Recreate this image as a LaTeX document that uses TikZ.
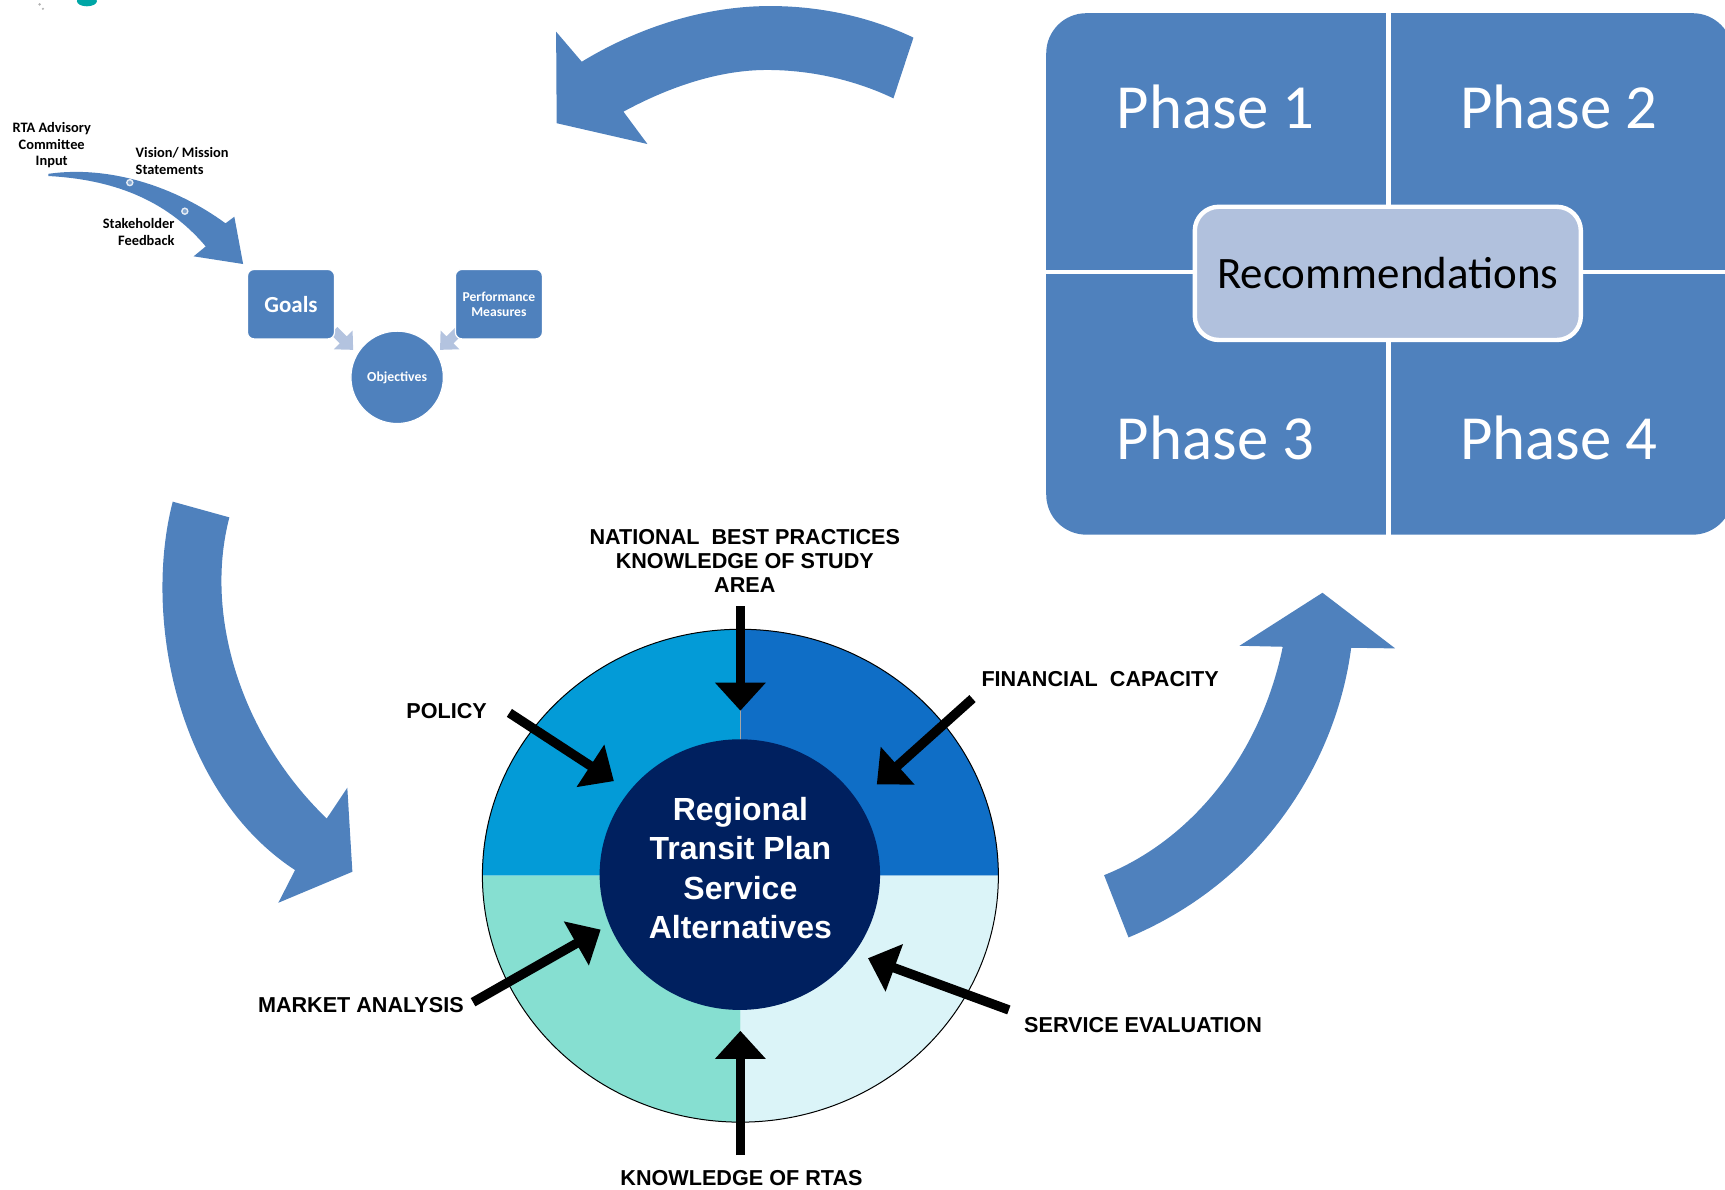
\documentclass[tikz,border=0pt]{standalone}
\usepackage{fontspec}
\newfontfamily\calfont{Carlito}
\newfontfamily\arialfont{Liberation Sans}
\usetikzlibrary{arrows.meta,shapes.geometric}
\definecolor{officeblue}{HTML}{4F81BD}
\definecolor{paleblue}{HTML}{B1C1DD}
\definecolor{chevron}{HTML}{B3C3DF}
\definecolor{qtl}{HTML}{039BD7}
\definecolor{qtr}{HTML}{0F6EC6}
\definecolor{qbl}{HTML}{86DFD1}
\definecolor{qbr}{HTML}{DBF4F8}
\definecolor{navy}{HTML}{00205F}
\newcommand\setfs[2]{\fontsize{#1}{#2}\selectfont}
\tikzset{
  bigarrow/.style={fill=officeblue},
  phasetext/.style={text=white,font=\calfont\setfs{31.4pt}{36pt}},
  smallbox/.style={fill=officeblue,draw=white,line width=0.6pt,rounded corners=3.3pt,
    minimum width=43.5pt,minimum height=34.7pt,text=white,align=center},
  smalllabel/.style={font=\calfont\bfseries\setfs{7.2pt}{8.2pt},inner sep=0pt},
  wheellabel/.style={font=\arialfont\bfseries\setfs{10.8pt}{12.1pt},align=center},
  pointer/.style={line width=4.7pt,-{Triangle[length=14pt,width=24.5pt]}},
}
\begin{document}
\begin{tikzpicture}[x=0.55pt,y=-0.55pt]
\useasboundingbox (0,0) rectangle (1568,1081);

% small remnant of a picture at the top edge
\fill[color=teal!70!cyan] (79,1) ellipse [x radius=5pt, y radius=2.6pt];
\fill[gray!60] (36,4) circle [radius=0.7pt] (39,8) circle [radius=0.6pt];

% ---------- phase panel ----------
\fill[officeblue,rounded corners=20pt] (951,12) rectangle (1575,486);
\draw[white,line width=2.8pt] (1262,12) -- (1262,486);
\draw[white,line width=2.2pt] (951,247) -- (1575,247);
\node[phasetext] (p1) at (1105,97) {Phase 1};
\node[phasetext] (p2) at (1417,97) {Phase 2};
\node[phasetext] (p3) at (1105,398) {Phase 3};
\node[phasetext] (p4) at (1417,398) {Phase 4};
\node[fill=paleblue,draw=white,line width=2.2pt,rounded corners=12pt,
      minimum width=193pt,minimum height=66.6pt,
      font=\calfont\setfs{22.5pt}{26pt}] (rec) at (1261.5,248.5) {Recommendations};

% ---------- big curved arrows ----------
\fill[bigarrow] (830.3,34.2) .. controls (790,15) and (745,5.5) .. (700,5.5)
  .. controls (640,5.5) and (580,25) .. (528.8,56.1)
  -- (505.5,28.8) -- (506,112) -- (588.5,130.9) -- (566.7,101.5)
  .. controls (610,78) and (655,63.6) .. (697,63.6)
  .. controls (740,63.6) and (780,74) .. (812.1,89.4) -- cycle;
\fill[bigarrow] (157,456) .. controls (130,560) and (160,720) .. (268.2,790.9)
  -- (253,820.6) -- (320.3,792.4) -- (315.7,716) -- (297,744)
  .. controls (220,670) and (185,560) .. (208.5,470.3) -- cycle;
\fill[bigarrow] (1003.6,795.5) .. controls (1080,765) and (1145,690) .. (1166,587.9)
  -- (1126.7,587) -- (1202.1,538.8) -- (1268.2,589.4) -- (1228.2,588.8)
  .. controls (1215,690) and (1150,800) .. (1025.8,852.1) -- cycle;

% ---------- goals / objectives sketch ----------
\fill[bigarrow] (44,158) .. controls (100,150) and (160,170) .. (205,203)
  -- (213,197) -- (221,240) -- (176,233) -- (187,224)
  .. controls (150,180) and (100,163) .. (44,160) -- cycle;
\foreach \p in {(118,166),(168,192)}
  \filldraw[fill=officeblue!70!white,draw=white!85!officeblue,line width=0.7pt] \p circle [radius=1.5pt];
\node[smalllabel,align=center] (rta) at (47,132) {RTA Advisory\\Committee\\Input};
\node[smalllabel,align=left,anchor=west] (vis) at (123,146.5) {Vision/ Mission\\Statements};
\node[smalllabel,align=right,anchor=east] (stk) at (159,211) {Stakeholder\\Feedback};

\fill[chevron] (306.7,297.3) -- (315.2,305.8) -- (320.5,300.5) -- (321,318)
  -- (303.5,317.5) -- (308.8,312.2) -- (300.3,303.7) -- cycle;
\fill[chevron] (414.3,297.3) -- (405.8,305.8) -- (400.5,300.5) -- (400,318)
  -- (417.5,317.5) -- (412.2,312.2) -- (420.7,303.7) -- cycle;
\node[smallbox,font=\calfont\bfseries\setfs{11.5pt}{13pt}] (goals) at (264.5,276.5) {Goals};
\node[smallbox,font=\calfont\bfseries\setfs{6.8pt}{7.7pt}] (perf) at (453.5,276.5) {Performance\\Measures};
\node[circle,fill=officeblue,draw=white,line width=0.6pt,minimum size=46.2pt,text=white,
      font=\calfont\bfseries\setfs{6.9pt}{8pt}] (obj) at (361,343) {Objectives};

% ---------- wheel ----------
\fill[qtl] (673,796) -- ++(-128.975pt,0pt) arc[start angle=180,end angle=90,x radius=128.975pt,y radius=123.2pt] -- cycle;
\fill[qtr] (673,796) -- ++(0pt,123.2pt) arc[start angle=90,end angle=0,x radius=128.975pt,y radius=123.2pt] -- cycle;
\fill[qbr] (673,796) -- ++(128.975pt,0pt) arc[start angle=0,end angle=-90,x radius=128.975pt,y radius=123.2pt] -- cycle;
\fill[qbl] (673,796) -- ++(0pt,-123.2pt) arc[start angle=-90,end angle=-180,x radius=128.975pt,y radius=123.2pt] -- cycle;
\draw[black,line width=0.5pt] (673,796) ellipse [x radius=128.975pt,y radius=123.2pt];
\draw[gray!70,line width=0.5pt] (673,572) -- (673,672);
\node[ellipse,fill=navy,inner sep=0pt,minimum width=140.2pt,minimum height=135.3pt] (hub) at (672.5,795) {};
\node[text=white,align=center,font=\arialfont\bfseries\setfs{16pt}{19.8pt}] (core) at (673,789)
  {Regional\\Transit Plan\\Service\\Alternatives};

\node[wheellabel] (nbp) at (677,510) {NATIONAL\ \ BEST PRACTICES\\KNOWLEDGE OF STUDY\\AREA};
\node[wheellabel] (pol) at (406,646) {POLICY};
\node[wheellabel] (fin) at (1000,617) {FINANCIAL\ \ CAPACITY};
\node[wheellabel] (mkt) at (328,914) {MARKET ANALYSIS};
\node[wheellabel] (svc) at (1039,932) {SERVICE EVALUATION};
\node[wheellabel] (rtas) at (674,1071) {KNOWLEDGE OF RTAS};

\coordinate (nbpS) at (673,551);  \coordinate (nbpE) at (673,646);
\coordinate (polS) at (463,648);  \coordinate (polE) at (558,710);
\coordinate (finS) at (884,635);  \coordinate (finE) at (797,713);
\coordinate (mktS) at (430,911);  \coordinate (mktE) at (546,845);
\coordinate (svcS) at (917,918);  \coordinate (svcE) at (789,871);
\coordinate (rtaS) at (673,1050); \coordinate (rtaE) at (673,937);
\foreach \a in {nbp,pol,fin,mkt,svc,rta}
  \draw[pointer] (\a S) -- (\a E);
\end{tikzpicture}
\end{document}
